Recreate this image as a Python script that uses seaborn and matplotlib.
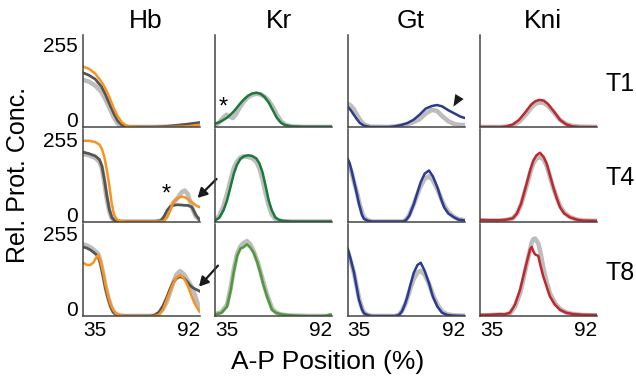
import matplotlib
matplotlib.use("Agg")
import matplotlib.pyplot as plt
import seaborn as sns

# ---------------- data (A-P position %, relative concentration 0-255) ----------------
genes = ["Hb", "Kr", "Gt", "Kni"]
times = ["T1", "T4", "T8"]
x_ticks = [35, 92]
y_ticks = [0, 255]

# Hb
hb_t1_x = [35, 38, 41, 44, 46, 48, 50, 52, 54, 56, 58, 62, 70, 76, 82, 86, 92]
hb_t1_col = [187, 180, 165, 140, 118, 90, 58, 32, 14, 5, 2, 0, 0, 0, 1, 2, 7]
hb_t1_dark = [168, 160, 148, 125, 100, 70, 42, 18, 6, 2, 0, 0, 0, 2, 6, 9, 14]
hb_t1_grey = [146, 140, 128, 108, 85, 58, 30, 10, 3, 1, 0, 0, 0, 1, 3, 5, 8]

hb_t4_x = [35, 38, 41, 43, 44.2, 45.4, 46.6, 47.8, 49, 50.2, 51.4, 53, 56, 70, 73, 74.5, 76, 77.5,
           79, 81, 83, 84.5, 86, 88, 90, 92]
hb_t4_col = [250, 250, 246, 238, 225, 200, 160, 112, 56, 20, 7, 2, 0, 0, 0, 2, 13, 35,
             60, 72, 77, 75, 70, 60, 50, 44]
hb_t4_dark = [215, 210, 203, 192, 172, 130, 80, 38, 13, 4, 1, 0, 0, 0, 3, 16, 35, 46,
              50, 52, 51, 50, 50, 45, 20, 3]
hb_t4_grey = [210, 205, 197, 185, 165, 120, 70, 32, 10, 3, 1, 0, 0, 0, 2, 8, 20, 42,
              58, 72, 90, 96, 85, 45, 15, 5]

hb_t8_x = [35, 37, 38.5, 40, 41.5, 42.4, 43.5, 44.9, 46, 47.3, 48.5, 49.7, 51, 53, 55, 68, 70, 72,
           74, 75.8, 77.5, 79, 80.5, 82.3, 84, 85.5, 87, 88, 89.5, 91.2, 92]
hb_t8_col = [165, 158, 158, 165, 182, 189, 170, 132, 95, 60, 35, 19, 8, 3, 0, 0, 0, 4,
             20, 50, 78, 101, 118, 127, 118, 101, 78, 60, 38, 19, 12]
hb_t8_dark = [214, 210, 205, 198, 190, 184, 162, 120, 84, 52, 28, 12, 5, 1, 0, 0, 3, 12,
              32, 58, 85, 104, 116, 122, 118, 108, 96, 90, 84, 79, 76]
hb_t8_grey = [222, 218, 213, 206, 198, 192, 170, 128, 90, 58, 32, 15, 6, 2, 0, 0, 2, 8,
              22, 45, 75, 105, 128, 139, 130, 115, 100, 90, 65, 30, 20]

# Kr
kr_t1_x = [35, 37, 39, 40.5, 42, 43.5, 45, 47, 49, 51, 53, 55, 57, 59, 61, 63, 65, 67, 69, 72, 78, 92]
kr_t1_col = [10, 15, 22, 28, 36, 45, 56, 72, 86, 97, 104, 106, 103, 93, 76, 52, 28, 13, 6, 2, 1, 1]
kr_t1_grey = [5, 15, 30, 38, 32, 28, 40, 62, 80, 93, 100, 103, 101, 94, 82, 62, 38, 18, 7, 2, 0, 0]

kr_t4_x = [35, 37, 39, 40.7, 42.5, 44, 45.5, 47.2, 49, 51, 53, 55, 56.5, 58, 59.5, 61, 62.5, 64.2,
           66, 68, 72, 92]
kr_t4_col = [4, 12, 35, 65, 110, 148, 175, 194, 202, 205, 203, 195, 180, 152, 110, 65, 35, 13,
             5, 2, 0, 0]
kr_t4_grey = [6, 18, 48, 85, 130, 165, 185, 198, 202, 200, 196, 185, 165, 130, 88, 50, 22, 8,
              3, 1, 0, 0]

kr_t8_x = [35, 38, 40.7, 42.5, 43.9, 45.6, 47.2, 48.5, 50.4, 52, 53.7, 55.5, 56.9, 58.5, 60.2, 62.6,
           64.5, 66.7, 70, 75, 80, 86, 89, 91, 92]
kr_t8_col = [5, 10, 29, 80, 134, 186, 209, 212, 222, 212, 196, 165, 134, 95, 60, 19,
             10, 6, 3, 1, 0, 0, 1, 5, 2]
kr_t8_grey = [6, 12, 35, 88, 142, 192, 215, 225, 232, 222, 200, 170, 140, 102, 66, 24,
              11, 5, 2, 1, 0, 0, 0, 1, 1]

# Gt
gt_t1_x = [35, 36.5, 38, 39.5, 41, 43, 46, 55, 58, 61, 64, 67, 70, 73, 76, 78.5, 81, 84, 87, 90, 92]
gt_t1_col = [63, 52, 38, 24, 12, 4, 0, 0, 2, 6, 12, 22, 38, 57, 65, 68, 64, 52, 42, 32, 28]
gt_t1_grey = [72, 66, 55, 38, 22, 8, 1, 0, 2, 5, 8, 15, 24, 42, 53, 50, 34, 18, 9, 6, 6]

gt_t4_x = [35, 36, 37, 38, 39.5, 40.5, 42, 43, 45, 47, 62, 63.5, 65, 67.3, 69, 70.6, 72.5, 74.6,
           76.5, 78.7, 80.5, 82, 84, 86.8, 89, 92]
gt_t4_col = [195, 180, 155, 127, 85, 55, 20, 8, 2, 0, 0, 5, 18, 55, 90, 122, 148, 158,
             140, 106, 70, 44, 25, 13, 6, 3]
gt_t4_grey = [175, 168, 150, 125, 90, 62, 28, 12, 3, 0, 0, 6, 20, 55, 85, 110, 132, 140,
              128, 100, 72, 50, 30, 14, 7, 4]

gt_t8_x = [35, 36.5, 38.1, 39.5, 40.5, 42, 43, 45, 47, 58, 60, 61.5, 63, 64.1, 65.5, 67.2, 69, 70.6,
           72.5, 74.6, 76.5, 78.7, 81, 83.6, 87, 92]
gt_t8_col = [210, 175, 134, 85, 50, 20, 8, 2, 0, 0, 3, 15, 38, 60, 95, 134, 158, 165,
             140, 102, 60, 29, 10, 3, 1, 0]
gt_t8_grey = [200, 170, 132, 88, 56, 24, 10, 3, 0, 0, 4, 16, 36, 56, 85, 115, 135, 140,
              128, 100, 66, 36, 14, 5, 2, 1]

# Kni
kni_t1_x = [35, 45, 48, 51, 54, 57, 60, 62, 64, 66, 68, 71, 74, 77, 80, 84, 92]
kni_t1_col = [0, 0, 2, 8, 22, 45, 70, 80, 84, 82, 72, 48, 22, 8, 2, 0, 0]
kni_t1_grey = [0, 0, 1, 5, 16, 36, 60, 72, 76, 75, 66, 45, 22, 9, 3, 1, 0]

kni_t4_x = [35, 40, 45, 48, 51, 53, 55, 57.7, 59.5, 61, 62.5, 64.2, 66, 67.5, 69, 70.7, 72.5, 74,
            76, 78.8, 82, 85, 92]
kni_t4_col = [5, 4, 4, 6, 10, 25, 55, 117, 160, 189, 205, 213, 200, 179, 145, 106, 70, 44,
              25, 13, 6, 3, 2]
kni_t4_grey = [3, 3, 3, 5, 10, 24, 52, 110, 152, 180, 195, 200, 192, 172, 140, 104, 72, 48,
               28, 14, 6, 3, 2]

kni_t8_x = [35, 40, 44.7, 47, 49.6, 52, 54.5, 56, 57.7, 59.4, 60.2, 61, 61.8, 63.4, 64.5, 65.8, 67.5,
            69.1, 71.5, 74, 77, 80.4, 85, 92]
kni_t8_col = [3, 4, 6, 5, 10, 35, 81, 120, 165, 207, 214, 200, 191, 186, 155, 123, 90,
              60, 35, 19, 10, 6, 4, 3]
kni_t8_grey = [2, 3, 4, 4, 8, 28, 70, 110, 160, 205, 228, 238, 240, 225, 195, 150, 105,
               70, 40, 22, 11, 6, 3, 2]

panels = {
    ("Hb", "T1"): (hb_t1_x, hb_t1_grey, hb_t1_dark, hb_t1_col),
    ("Hb", "T4"): (hb_t4_x, hb_t4_grey, hb_t4_dark, hb_t4_col),
    ("Hb", "T8"): (hb_t8_x, hb_t8_grey, hb_t8_dark, hb_t8_col),
    ("Kr", "T1"): (kr_t1_x, kr_t1_grey, None, kr_t1_col),
    ("Kr", "T4"): (kr_t4_x, kr_t4_grey, None, kr_t4_col),
    ("Kr", "T8"): (kr_t8_x, kr_t8_grey, None, kr_t8_col),
    ("Gt", "T1"): (gt_t1_x, gt_t1_grey, None, gt_t1_col),
    ("Gt", "T4"): (gt_t4_x, gt_t4_grey, None, gt_t4_col),
    ("Gt", "T8"): (gt_t8_x, gt_t8_grey, None, gt_t8_col),
    ("Kni", "T1"): (kni_t1_x, kni_t1_grey, None, kni_t1_col),
    ("Kni", "T4"): (kni_t4_x, kni_t4_grey, None, kni_t4_col),
    ("Kni", "T8"): (kni_t8_x, kni_t8_grey, None, kni_t8_col),
}

colors = {
    ("Hb", "T1"): "#F7931E", ("Hb", "T4"): "#F7931E", ("Hb", "T8"): "#F7931E",
    ("Kr", "T1"): "#1B7A3A", ("Kr", "T4"): "#1B7A3A", ("Kr", "T8"): "#4E9A3A",
    ("Gt", "T1"): "#2B3A93", ("Gt", "T4"): "#2B3A93", ("Gt", "T8"): "#2B3A93",
    ("Kni", "T1"): "#C1272D", ("Kni", "T4"): "#C1272D", ("Kni", "T8"): "#C1272D",
}

# ---------------- style ----------------
sns.set_style("white")
plt.rcParams["font.family"] = ["Liberation Sans", "DejaVu Sans"]
plt.rcParams["text.color"] = "black"
plt.rcParams["xtick.color"] = "black"
plt.rcParams["ytick.color"] = "black"
plt.rcParams["axes.labelcolor"] = "black"

fig, axes = plt.subplots(3, 4, figsize=(6.36, 3.79), dpi=100)
fig.subplots_adjust(left=0.1305, right=0.9387, top=0.9077, bottom=0.1662,
                    wspace=0.131, hspace=0.027)

spine_col = "#444444"
for r, t in enumerate(times):
    for c, g in enumerate(genes):
        ax = axes[r, c]
        ax.set_facecolor("none")
        xs, grey, dark, col = panels[(g, t)]
        sns.lineplot(x=xs, y=grey, ax=ax, color="#BDBDBD", lw=3.3, sort=False, legend=False)
        if dark is not None:
            sns.lineplot(x=xs, y=dark, ax=ax, color="#555555", lw=2.0, sort=False, legend=False)
        sns.lineplot(x=xs, y=col, ax=ax, color=colors[(g, t)], lw=1.8, sort=False, legend=False)
        ax.set_xlim(35, 92)
        ax.set_ylim(0, 285)
        for s in ["top", "right"]:
            ax.spines[s].set_visible(False)
        for s in ["left", "bottom"]:
            ax.spines[s].set_color(spine_col)
            ax.spines[s].set_linewidth(1.1)
        ax.tick_params(length=0, labelsize=15, pad=3.5, colors="black")
        ax.set_xlabel("")
        ax.set_ylabel("")
        if c == 0:
            ax.set_yticks(y_ticks)
            ax.set_yticklabels([str(v) for v in y_ticks])
            labs = ax.get_yticklabels()
            labs[0].set_verticalalignment("baseline")
        else:
            ax.set_yticks([])
        if r == 2:
            ax.set_xticks(x_ticks)
            ax.set_xticklabels([str(v) for v in x_ticks])
            xl = ax.get_xticklabels()
            xl[0].set_horizontalalignment("left")
            xl[1].set_horizontalalignment("right")
        else:
            ax.set_xticks([])
        if r == 0:
            ax.set_title(g, fontsize=19, pad=5, x=0.54, color="black")
        if c == 3:
            ax.text(1.07, 0.47, t, transform=ax.transAxes, ha="left", va="center",
                    fontsize=18, color="black")

# ---------------- annotations ----------------
arrow = dict(arrowstyle="-|>,head_length=0.55,head_width=0.3", color="#1a1a1a", lw=1.6,
             shrinkA=0, shrinkB=0, mutation_scale=10)
axes[0, 1].text(38.9, 60, "*", fontsize=17, ha="center", va="center", color="black")
axes[1, 0].text(75.4, 82, "*", fontsize=17, ha="center", va="center", color="black")
axes[1, 0].annotate("", xy=(90.8, 73), xytext=(19, 19), textcoords="offset pixels",
                    arrowprops=arrow, annotation_clip=False)
axes[2, 0].annotate("", xy=(91.5, 91), xytext=(19, 21), textcoords="offset pixels",
                    arrowprops=arrow, annotation_clip=False)
axes[0, 2].annotate("", xy=(86.5, 63), xytext=(9, 15), textcoords="offset pixels",
                    arrowprops=dict(arrowstyle="-|>,head_length=0.85,head_width=0.35",
                                    color="#1a1a1a", lw=0, shrinkA=0, shrinkB=0,
                                    mutation_scale=10),
                    annotation_clip=False)

fig.text(18 / 636, 1 - 175 / 379, "Rel. Prot. Conc.", rotation=90, ha="center", va="center",
         fontsize=18, color="black")
fig.text(328 / 636, 1 - 362 / 379, "A-P Position (%)", ha="center", va="center", fontsize=19,
         color="black")

fig.savefig("out.png", dpi=100)
